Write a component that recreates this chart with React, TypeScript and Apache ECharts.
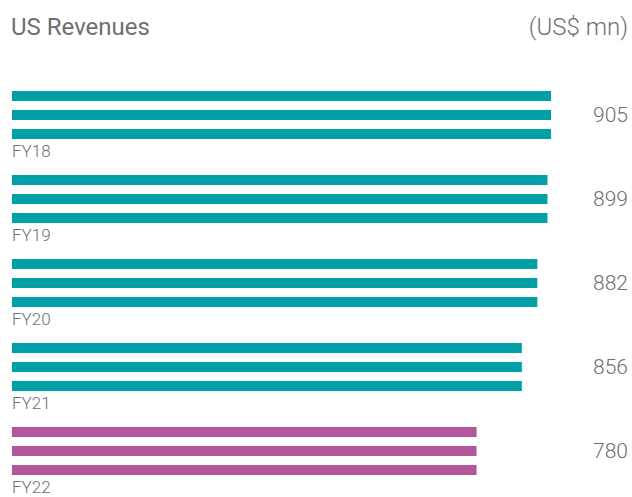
import React, { useEffect, useRef } from "react";
import * as echarts from "echarts";

const categories = ["FY18", "FY19", "FY20", "FY21", "FY22"];
const revenues = [905, 899, 882, 856, 780];
const titleText = "US Revenues";
const unitText = "(US$ mn)";

const TEAL = "#00A0A6";
const MAGENTA = "#B3579D";
const GREY = "#6f6f71";
const FONT = "Roboto";

export default function App() {
  const ref = useRef<HTMLDivElement>(null);
  useEffect(() => {
    if (!ref.current) return;
    const chart = echarts.init(ref.current, null, { renderer: "svg" });
    const barData = revenues.map((v, i) => ({
      value: v,
      itemStyle: { color: i === revenues.length - 1 ? MAGENTA : TEAL },
    }));
    const mkSeries = (k: number) => ({
      type: "bar",
      name: "s" + k,
      data: barData,
      barWidth: 10,
      barGap: "90%",
      silent: true,
    });
    chart.setOption({
      animation: false,
      textStyle: { fontFamily: FONT },
      title: [
        {
          text: titleText,
          left: 11,
          top: 15,
          padding: 0,
          textStyle: { fontFamily: FONT, fontSize: 24, fontWeight: "normal", color: GREY },
        },
        {
          text: unitText,
          right: 4,
          top: 15,
          padding: 0,
          textStyle: { fontFamily: FONT, fontSize: 24, fontWeight: 300, color: GREY },
        },
      ],
      grid: {
        left: 12,
        right: 24.4,
        top: 73,
        bottom: 4,
        containLabel: false,
        outerBoundsMode: "none",
      },
      xAxis: {
        type: "value",
        min: 0,
        max: 1000,
        show: false,
      },
      yAxis: [
        {
          type: "category",
          data: categories,
          inverse: true,
          position: "left",
          axisLine: { show: false },
          axisTick: { show: false },
          axisLabel: {
            align: "left",
            margin: 0,
            verticalAlign: "top",
            lineHeight: 72,
            fontFamily: FONT,
            fontSize: 17,
            fontWeight: 300,
            color: GREY,
          },
        },
        {
          type: "category",
          data: categories,
          inverse: true,
          position: "right",
          axisLine: { show: false },
          axisTick: { show: false },
          axisLabel: {
            align: "right",
            margin: 20.4,
            fontFamily: FONT,
            fontSize: 21,
            fontWeight: 300,
            color: GREY,
            formatter: (_v: string, idx: number) => String(revenues[idx]),
          },
        },
      ],
      series: [mkSeries(0), mkSeries(1), mkSeries(2)],
    });
    return () => chart.dispose();
  }, []);
  return <div ref={ref} style={{ width: 632, height: 497, position: "absolute", left: 0, top: 0 }} />;
}
